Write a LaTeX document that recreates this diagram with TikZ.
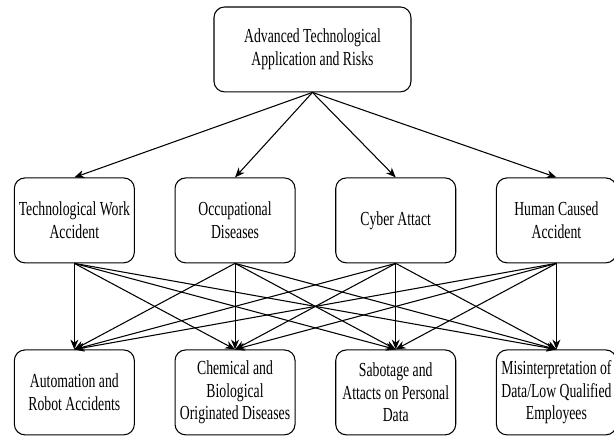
\documentclass[tikz,border=0pt]{standalone}
\usepackage{fontspec}
\setmainfont{Liberation Serif}[FakeStretch=0.69]
\usetikzlibrary{arrows.meta,positioning,shapes,calc}

\begin{document}
\begin{tikzpicture}[node distance=2.28cm and 1.05cm, >={Stealth[length=2.6mm,width=2.1mm,inset=0.8mm]},
    risk/.style={draw,rounded corners=8pt,line width=0.8pt,align=center,
      minimum width=3.18cm,minimum height=2.25cm,inner sep=1pt,font=\fontsize{15}{17}\selectfont}]
    \useasboundingbox (0,0) rectangle (16.27,-11.53);
    \node[risk,minimum width=5.22cm] (adv) at (8.28,-1.31) {Advanced Technological\\Application and Risks};
    \node[risk] (tw) at (1.97,-5.84) {Technological Work\\Accident};
    \node[risk,right=of tw] (od) {Occupational\\Diseases};
    \node[risk,right=of od] (ca) {Cyber Attact};
    \node[risk,right=of ca] (hc) {Human Caused\\Accident};
    \node[risk,below=of tw] (ar) {Automation and\\Robot Accidents};
    \node[risk,below=of od] (cb) {Chemical and\\Biological\\Originated Diseases};
    \node[risk,below=of ca] (sa) {Sabotage and\\Attacts on Personal\\Data};
    \node[risk,below=of hc] (md) {Misinterpretation of\\Data/Low Qualified\\Employees};
    \draw[->,line width=0.8pt] (adv.south)--(tw.north);
    \draw[->,line width=0.8pt] (adv.south)--(od.north);
    \draw[->,line width=0.8pt] (adv.south)--(ca.north);
    \draw[->,line width=0.8pt] (adv.south)--(hc.north);
    \foreach \a in {tw,od,ca,hc}
      \foreach \b in {ar,cb,sa,md}
        \draw[->,line width=0.8pt] (\a.south)--(\b.north);
  \end{tikzpicture}
\end{document}
